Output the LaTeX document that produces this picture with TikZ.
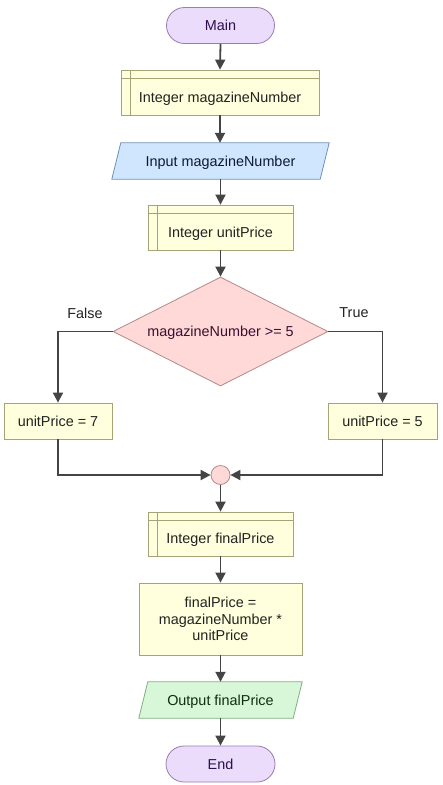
\documentclass[tikz,border=0pt]{standalone}
\usepackage{fontspec}
\setmainfont{Liberation Sans}
\usetikzlibrary{arrows.meta,shapes.geometric}
\pgfdeclarelayer{background}
\pgfsetlayers{background,main}
\definecolor{termfill}{HTML}{EADCFA}
\definecolor{termline}{HTML}{9A7CB0}
\definecolor{termtext}{HTML}{2E0E4E}
\definecolor{boxfill}{HTML}{FFFFDD}
\definecolor{boxline}{HTML}{A4A477}
\definecolor{boxtext}{HTML}{222222}
\definecolor{infill}{HTML}{D0E6FF}
\definecolor{inline}{HTML}{6E8FB8}
\definecolor{intext}{HTML}{0E1A33}
\definecolor{decfill}{HTML}{FFD8D8}
\definecolor{decline}{HTML}{B88888}
\definecolor{dectext}{HTML}{3A1030}
\definecolor{outfill}{HTML}{D8F7D8}
\definecolor{outline}{HTML}{7FAF7F}
\definecolor{outtext}{HTML}{0E2E0E}
\definecolor{wire}{HTML}{444444}
\tikzset{
  every node/.style={font=\fontsize{14.4}{16.5}\selectfont, inner sep=0pt, align=center},
  onelinetext/.style={text depth=0pt},
  terminal/.style={onelinetext, draw=termline, fill=termfill, text=termtext, rounded corners=18pt, minimum width=108pt, minimum height=36pt, line width=0.8pt},
  declbox/.style={draw=boxline, fill=boxfill, minimum height=45pt, line width=0.8pt},
  decltext/.style={onelinetext, text=boxtext},
  procbox/.style={draw=boxline, fill=boxfill, text=boxtext, line width=0.8pt},
  ioarea/.style={onelinetext, draw=none, minimum height=36pt},
  decision/.style={onelinetext, diamond, draw=decline, fill=decfill, text=dectext, minimum width=215pt, minimum height=109pt, aspect=2, line width=0.8pt},
  joint/.style={circle, draw=decline, fill=decfill, minimum size=19pt, line width=0.8pt},
  flow/.style={draw=wire, line width=1.8pt, -{Triangle[length=10pt,width=10pt]}},
  branchlabel/.style={onelinetext, text=boxtext}
}
\begin{document}
\begin{tikzpicture}[x=1pt,y=-1pt]
\useasboundingbox (0,0) rectangle (443,785);
% Main
\node[terminal] (main) at (220.5,25.5) {Main};
% Integer magazineNumber
\node[declbox, minimum width=198pt] (d1) at (220,92.5) {};
\draw[boxline, line width=0.8pt] ([xshift=10pt]d1.north west) -- ([xshift=10pt]d1.south west);
\draw[boxline, line width=0.8pt] ([yshift=-9pt]d1.north west) -- ([yshift=-9pt]d1.north east);
\node[decltext] (d1t) at ([yshift=-4.5pt]d1.center) {Integer magazineNumber};
% Input
\node[ioarea, minimum width=208pt, text=intext] (in) at (220.5,161) {Input magazineNumber};
\begin{pgfonlayer}{background}
\draw[draw=inline, fill=infill, line width=0.8pt] ([xshift=4.5pt]in.north west) -- ([xshift=4.5pt]in.north east) -- ([xshift=-4.5pt]in.south east) -- ([xshift=-4.5pt]in.south west) -- cycle;
\end{pgfonlayer}
% Integer unitPrice
\node[declbox, minimum width=145pt] (d2) at (220.5,227.5) {};
\draw[boxline, line width=0.8pt] ([xshift=10pt]d2.north west) -- ([xshift=10pt]d2.south west);
\draw[boxline, line width=0.8pt] ([yshift=-9pt]d2.north west) -- ([yshift=-9pt]d2.north east);
\node[decltext] (d2t) at ([yshift=-4.5pt]d2.center) {Integer unitPrice};
% Decision
\node[decision] (dec) at (220.5,331.5) {magazineNumber >= 5};
\node[branchlabel] (fl) at (85,313) {False};
\node[branchlabel] (tl) at (354,313) {True};
% branches
\node[procbox, onelinetext, minimum width=108pt, minimum height=36pt] (lb) at (58,421) {unitPrice = 7};
\node[procbox, onelinetext, minimum width=109pt, minimum height=36pt] (rb) at (382.5,421) {unitPrice = 5};
\node[joint] (jn) at (220.5,475) {};
% Integer finalPrice
\node[declbox, minimum width=145pt, minimum height=44pt] (d3) at (220.5,534) {};
\draw[boxline, line width=0.8pt] ([xshift=10pt]d3.north west) -- ([xshift=10pt]d3.south west);
\draw[boxline, line width=0.8pt] ([yshift=-9pt]d3.north west) -- ([yshift=-9pt]d3.north east);
\node[decltext] (d3t) at ([yshift=-4.5pt]d3.center) {Integer finalPrice};
% Process
\node[procbox, minimum width=163pt, minimum height=72pt] (pr) at (220.5,619) {finalPrice =\\magazineNumber *\\unitPrice};
% Output
\node[ioarea, minimum width=154pt, text=outtext] (out) at (220.5,700) {Output finalPrice};
\begin{pgfonlayer}{background}
\draw[draw=outline, fill=outfill, line width=0.8pt] ([xshift=4.5pt]out.north west) -- ([xshift=4.5pt]out.north east) -- ([xshift=-4.5pt]out.south east) -- ([xshift=-4.5pt]out.south west) -- cycle;
\end{pgfonlayer}
% End
\node[terminal, minimum width=109pt] (end) at (220.5,764) {End};
% connectors
\draw[flow] (main.south) -- (d1.north);
\draw[flow] (d1.south) -- (d1.south |- in.north);
\draw[flow] (in.south -| d2.north) -- (d2.north);
\draw[flow] (d2.south) -- (dec.north);
\draw[flow] (dec.west) -| (lb.north);
\draw[flow] (dec.east) -| (rb.north);
\draw[flow] (lb.south) |- (jn.west);
\draw[flow] (rb.south) |- (jn.east);
\draw[flow] (jn.south) -- (d3.north);
\draw[flow] (d3.south) -- (pr.north);
\draw[flow] (pr.south) -- (out.north);
\draw[flow] (out.south) -- (end.north);
\end{tikzpicture}
\end{document}
